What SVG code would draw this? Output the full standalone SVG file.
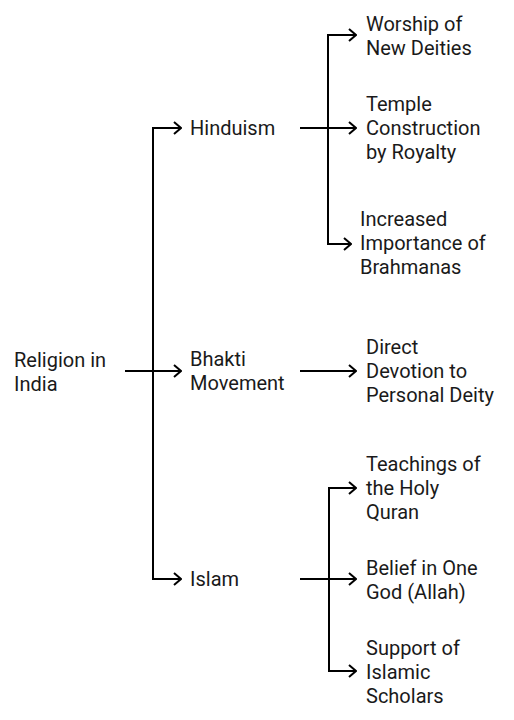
<svg xmlns="http://www.w3.org/2000/svg" width="514" height="720" viewBox="0 0 514 720">
<defs>
<marker id="arr" viewBox="0 0 10 14" refX="9" refY="7" markerWidth="10" markerHeight="14" markerUnits="userSpaceOnUse" orient="auto">
<path d="M2,1 L9,7 L2,13" fill="none" stroke="#000" stroke-width="2"/>
</marker>
<style>
text{font-family:Roboto,"Liberation Sans",sans-serif;font-size:20px;fill:#1a1a1a}
.c{fill:none;stroke:#000;stroke-width:2}
</style>
</defs>
<rect width="514" height="720" fill="#fff"/>
<g id="connectors">
<path class="c" d="M125,371 H153"/>
<path class="c" d="M153,371 V128 H181" marker-end="url(#arr)"/>
<path class="c" d="M153,371 H181" marker-end="url(#arr)"/>
<path class="c" d="M153,371 V579 H181" marker-end="url(#arr)"/>
<path class="c" d="M300,128 H328"/>
<path class="c" d="M328,128 V35 H356" marker-end="url(#arr)"/>
<path class="c" d="M328,128 H356" marker-end="url(#arr)"/>
<path class="c" d="M328,128 V244 H351" marker-end="url(#arr)"/>
<path class="c" d="M300,371 H356" marker-end="url(#arr)"/>
<path class="c" d="M300,579 H329"/>
<path class="c" d="M329,579 V488 H356" marker-end="url(#arr)"/>
<path class="c" d="M329,579 H356" marker-end="url(#arr)"/>
<path class="c" d="M329,579 V671 H356" marker-end="url(#arr)"/>
</g>
<g id="root"><text x="14" y="367">Religion in</text><text x="14" y="391">India</text></g>
<g id="hinduism"><text x="190" y="135">Hinduism</text></g>
<g id="bhakti"><text x="190" y="366">Bhakti</text><text x="190" y="390">Movement</text></g>
<g id="islam"><text x="190" y="586">Islam</text></g>
<g id="worship"><text x="366" y="31">Worship of</text><text x="366" y="55">New Deities</text></g>
<g id="temple"><text x="366" y="111">Temple</text><text x="366" y="135">Construction</text><text x="366" y="159">by Royalty</text></g>
<g id="brahmanas"><text x="360" y="226">Increased</text><text x="360" y="250">Importance of</text><text x="360" y="274">Brahmanas</text></g>
<g id="devotion"><text x="366" y="354">Direct</text><text x="366" y="378">Devotion to</text><text x="366" y="402">Personal Deity</text></g>
<g id="quran"><text x="366" y="471">Teachings of</text><text x="366" y="495">the Holy</text><text x="366" y="519">Quran</text></g>
<g id="allah"><text x="366" y="575">Belief in One</text><text x="366" y="599">God (Allah)</text></g>
<g id="scholars"><text x="366" y="655">Support of</text><text x="366" y="679">Islamic</text><text x="366" y="703">Scholars</text></g>
</svg>
